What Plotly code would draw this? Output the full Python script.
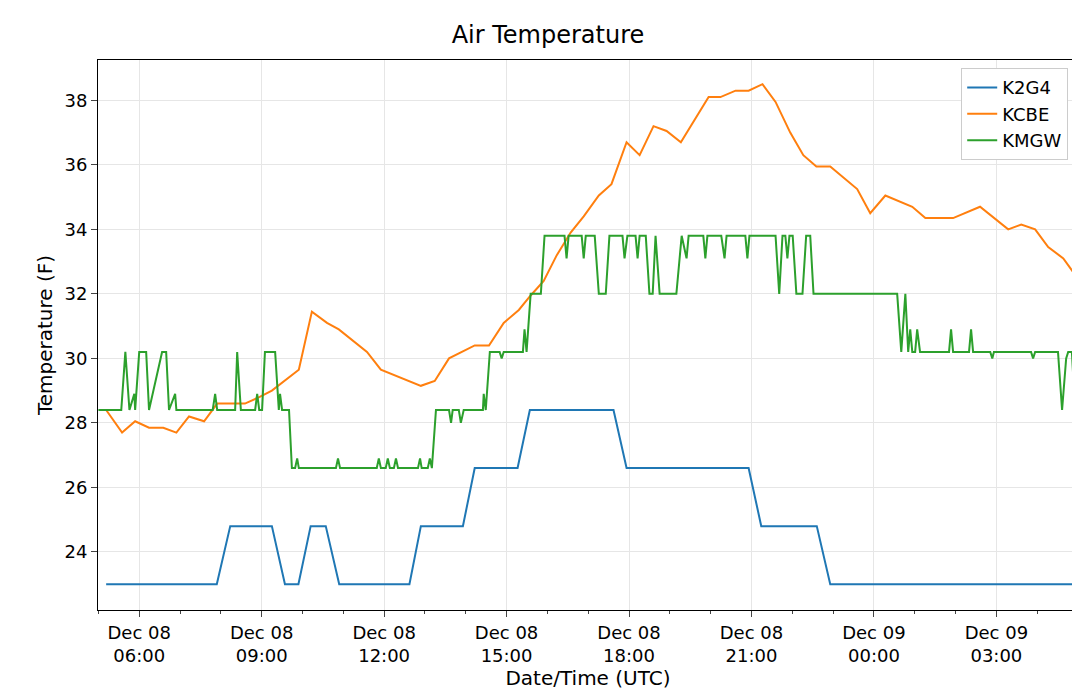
import pandas as pd
import plotly.graph_objects as go

base = pd.Timestamp("2018-12-08 00:00")

# hours since Dec 08 00:00 UTC, temperature in F
k2g4_hours = [5.19, 7.90, 8.23, 9.25, 9.57, 9.90, 10.20, 10.57, 10.90, 12.62, 12.90, 13.93, 14.22,
              15.27, 15.57, 17.62, 17.94, 20.93, 21.24, 22.60, 22.93, 28.95]
k2g4_temp = [23, 23, 24.8, 24.8, 23, 23, 24.8, 24.8, 23, 23, 24.8, 24.8, 26.6,
             26.6, 28.4, 28.4, 26.6, 26.6, 24.8, 24.8, 23, 23]

kcbe_hours = [5.19, 5.58, 5.90, 6.24, 6.59, 6.91, 7.22, 7.59, 7.91, 8.59, 8.94, 9.25, 9.91, 10.23,
              10.60, 10.89, 11.58, 11.92, 12.90, 13.24, 13.59, 14.22, 14.57, 14.93, 15.30, 15.59,
              15.91, 16.23, 16.57, 16.89, 17.26, 17.57, 17.94, 18.26, 18.60, 18.92, 19.27, 19.95,
              20.24, 20.61, 20.93, 21.27, 21.59, 21.95, 22.27, 22.59, 22.93, 23.59, 23.91, 24.28,
              24.94, 25.26, 25.94, 26.60, 27.29, 27.61, 27.95, 28.27, 28.64, 28.95]
kcbe_temp = [28.4, 27.7, 28.05, 27.85, 27.85, 27.7, 28.2, 28.05, 28.6, 28.6, 28.8, 29.0, 29.65, 31.45,
             31.1, 30.9, 30.2, 29.65, 29.15, 29.3, 30.0, 30.4, 30.4, 31.1, 31.5, 31.95,
             32.4, 33.2, 33.9, 34.4, 35.05, 35.4, 36.7, 36.3, 37.2, 37.05, 36.7, 38.1,
             38.1, 38.3, 38.3, 38.5, 37.95, 37.0, 36.3, 35.95, 35.95, 35.25, 34.5, 35.05,
             34.7, 34.35, 34.35, 34.7, 34.0, 34.15, 34.0, 33.45, 33.1, 32.55]

kmgw_hours = [5.0, 5.56, 5.66, 5.76, 5.88, 5.90, 6.0, 6.17, 6.24, 6.56, 6.66, 6.73, 6.88, 6.91,
              7.80, 7.86, 7.91, 8.35, 8.40, 8.49, 8.84, 8.89, 8.94, 9.01, 9.08, 9.33, 9.42, 9.45,
              9.50, 9.67, 9.74, 9.82, 9.87, 9.91, 10.82, 10.87, 10.92, 11.82, 11.87, 11.92,
              12.04, 12.09, 12.14, 12.24, 12.29, 12.34, 12.83, 12.88, 12.92, 13.07, 13.12, 13.17,
              13.27, 13.59, 13.64, 13.68, 13.83, 13.88, 13.95, 14.42, 14.44, 14.49, 14.59, 14.83,
              14.88, 14.93, 15.40, 15.44, 15.49, 15.59, 15.84, 15.93, 16.42, 16.47, 16.52, 16.84,
              16.89, 16.94, 17.16, 17.26, 17.43, 17.52, 17.84, 17.89, 17.96, 18.16, 18.21, 18.26,
              18.41, 18.50, 18.58, 18.65, 18.75, 19.16, 19.29, 19.41, 19.46, 19.82, 19.87, 19.92,
              20.26, 20.34, 20.39, 20.85, 20.90, 20.95, 21.59, 21.68, 21.76, 21.83, 21.88, 21.93,
              22.01, 22.10, 22.25, 22.34, 22.44, 22.52, 24.57, 24.67, 24.77, 24.84, 24.89, 24.94,
              25.01, 25.06, 25.13, 25.84, 25.89, 25.94, 26.33, 26.38, 26.43, 26.85, 26.90, 26.94,
              27.85, 27.90, 27.95, 28.51, 28.61, 28.71, 28.76, 28.85, 28.93, 29.0]
kmgw_temp = [28.4, 28.4, 30.2, 28.4, 28.9, 28.4, 30.2, 30.2, 28.4, 30.2, 30.2, 28.4, 28.9, 28.4,
             28.4, 28.9, 28.4, 28.4, 30.2, 28.4, 28.4, 28.9, 28.4, 28.4, 30.2, 30.2, 28.4, 28.9,
             28.4, 28.4, 26.6, 26.6, 26.9, 26.6, 26.6, 26.9, 26.6, 26.6, 26.9, 26.6,
             26.6, 26.9, 26.6, 26.6, 26.9, 26.6, 26.6, 26.9, 26.6, 26.6, 26.9, 26.6,
             28.4, 28.4, 28.0, 28.4, 28.4, 28.0, 28.4, 28.4, 28.9, 28.4, 30.2, 30.2,
             30.0, 30.2, 30.2, 30.9, 30.2, 32.0, 32.0, 33.8, 33.8, 33.1, 33.8, 33.8,
             33.1, 33.8, 33.8, 32.0, 32.0, 33.8, 33.8, 33.1, 33.8, 33.8, 33.1, 33.8,
             33.8, 32.0, 32.0, 33.8, 32.0, 32.0, 33.8, 33.1, 33.8, 33.8, 33.1, 33.8,
             33.8, 33.1, 33.8, 33.8, 33.1, 33.8, 33.8, 32.0, 33.8, 33.8, 33.1, 33.8,
             33.8, 32.0, 32.0, 33.8, 33.8, 32.0, 32.0, 30.2, 32.0, 30.2, 30.9, 30.2,
             30.2, 30.9, 30.2, 30.2, 30.9, 30.2, 30.2, 30.9, 30.2, 30.2, 30.0, 30.2,
             30.2, 30.0, 30.2, 30.2, 28.4, 30.0, 30.2, 30.2, 28.4, 28.4]

tick_hours = [6, 9, 12, 15, 18, 21, 24, 27]
tick_text = ["Dec 08<br>06:00", "Dec 08<br>09:00", "Dec 08<br>12:00", "Dec 08<br>15:00",
             "Dec 08<br>18:00", "Dec 08<br>21:00", "Dec 09<br>00:00", "Dec 09<br>03:00"]


def to_time(hours):
    return base + pd.to_timedelta(hours, unit="h")


fig = go.Figure()
series = [("K2G4", k2g4_hours, k2g4_temp, "#1f77b4"),
          ("KCBE", kcbe_hours, kcbe_temp, "#ff7f0e"),
          ("KMGW", kmgw_hours, kmgw_temp, "#2ca02c")]
for name, h, t, c in series:
    fig.add_trace(go.Scatter(x=to_time(h), y=t, mode="lines", name=name, line=dict(color=c, width=2)))

fig.update_layout(
    width=1080, height=697,
    paper_bgcolor="white", plot_bgcolor="white",
    font=dict(family="DejaVu Sans", size=18, color="black"),
    title=dict(text="Air Temperature", x=0.5, xanchor="center", y=0.95, yanchor="bottom",
               font=dict(size=24)),
    margin=dict(l=90, r=10, t=52, b=95),
    legend=dict(x=0.99, y=0.985, xanchor="right", yanchor="top", bordercolor="#cccccc",
                borderwidth=1, bgcolor="white", font=dict(size=18)),
)
fig.update_xaxes(
    automargin=False,
    range=[to_time(4.99), to_time(29.0)],
    tickvals=to_time(tick_hours), ticktext=tick_text,
    title=dict(text="Date/Time (UTC)", font=dict(size=20), standoff=2),
    showgrid=True, gridcolor="#e6e6e6", ticks="outside", ticklen=6,
    showline=True, linecolor="black", mirror=True, tickfont=dict(size=18),
    minor=dict(ticks="outside", ticklen=3, dtick=3600000, tick0="2018-12-08 00:00", showgrid=False),
)
fig.update_yaxes(
    automargin=False,
    range=[22.2, 39.25], tickvals=[24, 26, 28, 30, 32, 34, 36, 38],
    title=dict(text="Temperature (F)", font=dict(size=20), standoff=6),
    showgrid=True, gridcolor="#e6e6e6", ticks="outside", ticklen=6,
    showline=True, linecolor="black", mirror=True, zeroline=False, tickfont=dict(size=18),
)

fig.write_html("out.html")
